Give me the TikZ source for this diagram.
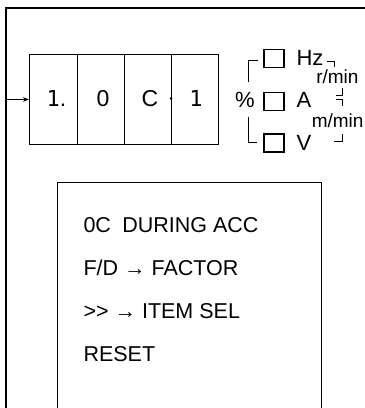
\documentclass[tikz,border=0pt]{standalone}
\usepackage{fontspec}
\setmainfont{Liberation Sans}
\newfontfamily\monoone{DejaVu Sans Mono}
\usetikzlibrary{arrows.meta}
\begin{document}
\begin{tikzpicture}[x=1pt,y=-1pt,line width=1pt,
  cell/.style={draw,line width=0.9pt,minimum height=90pt,inner sep=0,anchor=north west},
  dig/.style={font=\fontsize{23}{23}\selectfont},
  sq/.style={draw,line width=1.4pt,minimum width=20pt,minimum height=18pt,inner sep=0},
  lbl/.style={inner sep=0,anchor=west,font=\fontsize{22}{22}\selectfont},
  unit/.style={inner sep=0,anchor=east,font=\fontsize{19}{19}\selectfont},
  txt/.style={inner sep=0,anchor=base west,font=\fontsize{21.5}{22}\selectfont},
  cmk/.style={line width=0.8pt}]
\useasboundingbox (0,0) rectangle (365,408);
% outer frame
\coordinate (fb) at (6,408);
\coordinate (ftl) at (6,8);
\coordinate (ftr) at (365,8);
\draw[line width=1.1pt] (fb) -- (ftl) -- (ftr);
% display cells
\node[cell,minimum width=48pt] (c1) at (29,54) {};
\node[cell,minimum width=47pt] (c2) at (77,54) {};
\node[cell,minimum width=47pt] (c3) at (124,54) {};
\node[cell,minimum width=47pt] (c4) at (171,54) {};
\node[dig] (d1) at ([xshift=3pt,yshift=1pt]c1.center) {{\monoone\fontsize{22}{22}\selectfont 1}.};
\node[dig] (d2) at ([xshift=2pt,yshift=1pt]c2.center) {0};
\node[dig] (d3) at ([xshift=2pt,yshift=1pt]c3.center) {C};
\node[dig] (d4) at ([xshift=1pt,yshift=1pt]c4.center) {\monoone\fontsize{22}{22}\selectfont 1};
\fill ([yshift=1pt]c4.west) circle (1.3pt);
% arrow into display
\draw[-{Stealth[length=6pt,width=4.5pt]}] (ftl |- c1.west) -- (c1.west);
% bracket and percent
\coordinate (bt1) at (258,60);
\coordinate (bt2) at (248,60);
\coordinate (bt3) at (248,82);
\coordinate (bb1) at (248,117);
\coordinate (bb2) at (248,142);
\coordinate (bb3) at (257,142);
\draw[line width=0.9pt] (bt1) -- (bt2) -- (bt3);
\draw[line width=0.9pt] (bb1) -- (bb2) -- (bb3);
\node[inner sep=0,font=\fontsize{22}{22}\selectfont] (pct) at (245,100) {\%};
% squares
\node[sq] (s1) at (274,58.5) {};
\node[sq] (s2) at (274,101.5) {};
\node[sq] (s3) at (274,143) {};
% labels
\node[lbl] (hz) at (296,58) {Hz};
\node[lbl] (amp) at (296,100) {A};
\node[lbl] (volt) at (296,143) {V};
\node[unit] (rmin) at (359,77) {r/min};
\node[unit] (mmin) at (364,121) {m/min};
% corner marks
\draw[cmk] (327,61) -- (334,61) -- (334,67);
\draw[cmk] (342,88) -- (342,95) -- (336,95);
\draw[cmk] (336,99) -- (342,99) -- (342,106);
\draw[cmk] (342,134) -- (342,141) -- (334,141);
% message box
\coordinate (mbl) at (57,408);
\coordinate (mtl) at (57,182);
\coordinate (mtr) at (321,182);
\coordinate (mbr) at (321,408);
\draw[line width=1pt] (mbl) -- (mtl) -- (mtr) -- (mbr);
\node[txt] (t1) at (83,232) {0C\hspace{0.25em} DURING ACC};
\node[txt] (t2) at (83,275) {F/D → FACTOR};
\node[txt] (t3) at (83,318) {>{}> → ITEM SEL};
\node[txt] (t4) at (83,361) {RESET};
\end{tikzpicture}
\end{document}
